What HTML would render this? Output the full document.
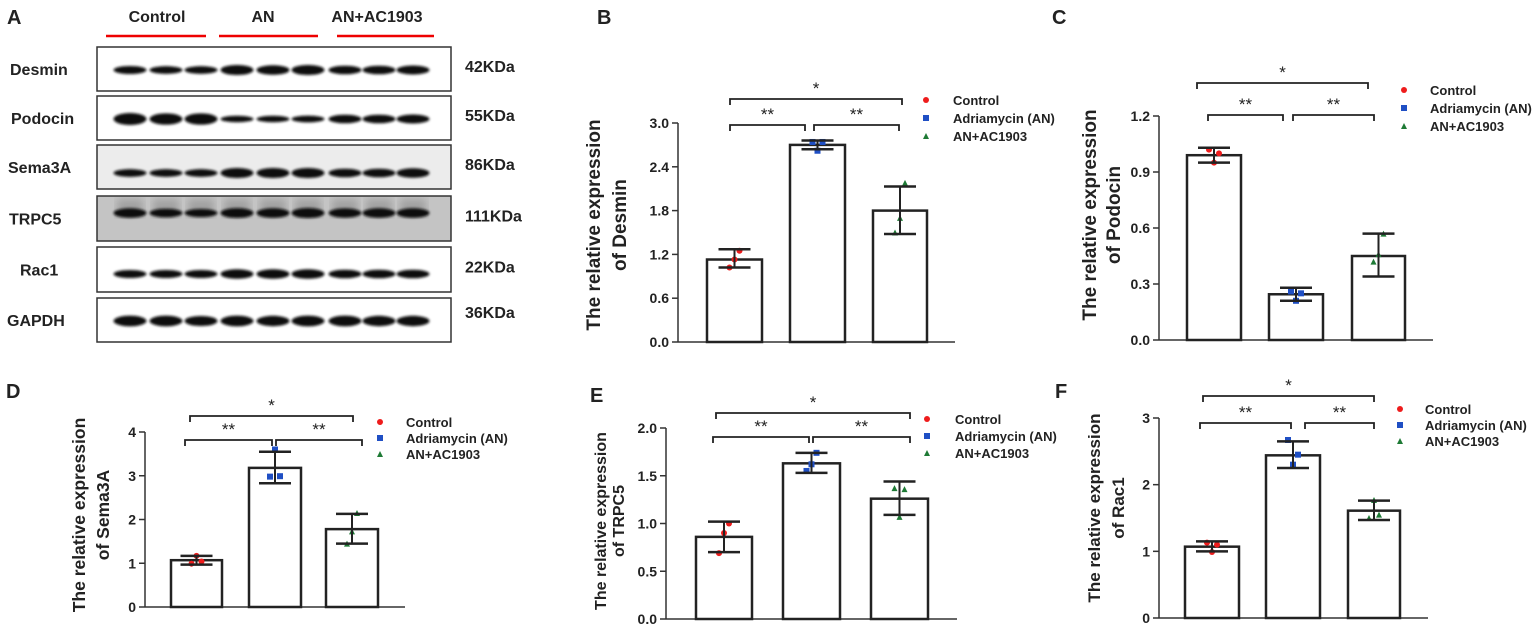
<!DOCTYPE html>
<html><head><meta charset="utf-8"><style>
html,body{margin:0;padding:0;background:#fff;}
svg{display:block;font-family:"Liberation Sans",Arial,sans-serif;}
</style></head><body>
<svg id="s" width="1535" height="633" viewBox="0 0 1535 633" xmlns="http://www.w3.org/2000/svg">
<defs><filter id="bl" x="-20%" y="-50%" width="140%" height="200%"><feGaussianBlur stdDeviation="1.2"/></filter>
<filter id="bl2"><feGaussianBlur stdDeviation="4"/></filter></defs>
<g id="g"></g>
</svg>
<script>
var g=document.getElementById('g'),NS='http://www.w3.org/2000/svg';
function el(t,a,txt){var e=document.createElementNS(NS,t);for(var k in a)e.setAttribute(k,a[k]);if(txt!=null)e.textContent=txt;g.appendChild(e);return e;}
function tx(x,y,s,fs,opt){opt=opt||{};var a={x:x,y:y,'font-size':fs,fill:'#222','font-weight':opt.w||'bold'};if(opt.a)a['text-anchor']=opt.a;if(opt.r)a.transform='rotate(-90 '+x+' '+y+')';return el('text',a,s);}
tx(7,24,'A',20);tx(597,24,'B',20);tx(1052,24,'C',20);tx(6,398,'D',20);tx(590,402,'E',20);tx(1055,398,'F',20);
tx(157,22,'Control',16,{a:'middle'});tx(263,22,'AN',16,{a:'middle'});tx(377,22,'AN+AC1903',16,{a:'middle'});
[[106,206],[219,318],[337,434]].forEach(function(p){el('line',{x1:p[0],x2:p[1],y1:36,y2:36,stroke:'#e00','stroke-width':2.5});});
var rows=[['Desmin',47,91,70,[.75,.7,.7,1.1,1,1.1,.85,.85,.9],'#fff','42KDa',10],
['Podocin',96,140,119,[1.4,1.3,1.3,.5,.5,.55,.85,.85,.9],'#fff','55KDa',11],
['Sema3A',145,189,173,[.7,.7,.7,1.1,1.1,1.1,.85,.85,1],'#ececec','86KDa',8],
['TRPC5',196,241,213,[1,.85,.75,1.05,1,1.1,.95,1,1],'#c4c4c4','111KDa',9],
['Rac1',247,292,274,[.75,.75,.75,1,1,1,.85,.85,.85],'#fff','22KDa',20],
['GAPDH',298,342,321,[1.2,1.2,1.1,1.2,1.15,1.2,1.2,1.15,1.15],'#fff','36KDa',7]];
var lanes=[130,166,201,237,273,308,345,379,413];
rows.forEach(function(r){
 el('rect',{x:97,y:r[1],width:354,height:r[2]-r[1],fill:r[5],stroke:'#333','stroke-width':1.5});
 if(r[0]=='TRPC5'){lanes.forEach(function(x){el('rect',{x:x-13,y:r[1]+3,width:26,height:18,fill:'#8a8a8a',filter:'url(#bl2)',opacity:.6});});}
 lanes.forEach(function(x,i){var h=6*r[4][i]+1.5;el('ellipse',{cx:x,cy:r[3],rx:16.5,ry:h/2+1,fill:'#111',filter:'url(#bl)'});});
 tx(r[7],(r[1]+r[2])/2+6,r[0],16);
 tx(465,(r[1]+r[2])/2+(r[0]=='GAPDH'?-2:3),r[6],16);
});
function panel(P){
 var ax=P.ax,y0=P.y0,yt=P.yt,sc=(y0-yt)/P.max;
 function Y(v){return y0-v*sc;}
 el('line',{x1:ax,x2:ax,y1:yt,y2:y0,stroke:'#333','stroke-width':1.5});
 el('line',{x1:ax,x2:P.xe,y1:y0,y2:y0,stroke:'#333','stroke-width':1.5});
 P.ticks.forEach(function(t){var y=Y(t);el('line',{x1:ax-6,x2:ax,y1:y,y2:y,stroke:'#333','stroke-width':1.5});tx(ax-9,y+5,t.toFixed(P.dec),14,{a:'end'});});
 var cols=['#ee1c1c','#1f4fc4','#1e7a35'];
 P.bars.forEach(function(b,i){
  var x1=b[0],x2=b[1],cx=(x1+x2)/2;
  el('rect',{x:x1,y:Y(b[2]),width:x2-x1,height:y0-Y(b[2]),fill:'#fff',stroke:'#222','stroke-width':2.5});
  b[5].forEach(function(v,k){var px=cx+(k-1)*5;
   if(i==0)el('circle',{cx:px,cy:Y(v),r:3,fill:cols[0]});
   else if(i==1)el('rect',{x:px-3,y:Y(v)-3,width:6,height:6,fill:cols[1]});
   else el('polygon',{points:(px-3)+','+(Y(v)+3)+' '+(px+3)+','+(Y(v)+3)+' '+px+','+(Y(v)-3),fill:cols[2]});});
  el('line',{x1:cx,x2:cx,y1:Y(b[3]),y2:Y(b[4]),stroke:'#222','stroke-width':2});
  [b[3],b[4]].forEach(function(v){el('line',{x1:cx-16,x2:cx+16,y1:Y(v),y2:Y(v),stroke:'#222','stroke-width':2.5});});
 });
 P.br.forEach(function(b){el('polyline',{points:b[0]+','+(b[2]+6)+' '+b[0]+','+b[2]+' '+b[1]+','+b[2]+' '+b[1]+','+(b[2]+6),fill:'none',stroke:'#222','stroke-width':1.8});
  tx((b[0]+b[1])/2,b[2]-5,b[3],17,{a:'middle',w:'normal'});});
 var L=['Control','Adriamycin (AN)','AN+AC1903'];
 P.leg.ys.forEach(function(y,i){var x=P.leg.dx;
  if(i==0)el('circle',{cx:x,cy:y,r:3,fill:cols[0]});else if(i==1)el('rect',{x:x-3,y:y-3,width:6,height:6,fill:cols[1]});
  else el('polygon',{points:(x-3)+','+(y+3)+' '+(x+3)+','+(y+3)+' '+x+','+(y-3),fill:cols[2]});
  tx(P.leg.tx,y+5,L[i],13);});
 tx(P.yl[0],P.yl[2],'The  relative expression',P.yl[3],{a:'middle',r:1});
 tx(P.yl[1],P.yl[2],P.name,P.yl[3],{a:'middle',r:1});
}
panel({ax:678,y0:342,yt:123,max:3,ticks:[0,0.6,1.2,1.8,2.4,3.0],dec:1,xe:955,name:'of Desmin',
 bars:[[707,762,1.13,1.02,1.27,[1.02,1.13,1.25]],[790,845,2.7,2.64,2.76,[2.74,2.62,2.74]],[873,927,1.8,1.48,2.13,[1.5,1.7,2.18]]],
 br:[[730,902,99,'*'],[730,805,125,'**'],[814,899,125,'**']],leg:{dx:926,tx:953,ys:[100,118,136]},yl:[600,626,225,19]});
panel({ax:1159,y0:340,yt:116,max:1.2,ticks:[0,0.3,0.6,0.9,1.2],dec:1,xe:1433,name:'of Podocin',
 bars:[[1187,1241,0.99,0.95,1.03,[1.02,0.95,1.0]],[1269,1323,0.245,0.21,0.28,[0.26,0.21,0.25]],[1352,1405,0.45,0.34,0.57,[0.42,0.46,0.57]]],
 br:[[1197,1368,83,'*'],[1208,1283,115,'**'],[1293,1374,115,'**']],leg:{dx:1404,tx:1430,ys:[90,108,126]},yl:[1096,1120,215,19]});
panel({ax:145,y0:607,yt:432,max:4,ticks:[0,1,2,3,4],dec:0,xe:405,name:'of Sema3A',
 bars:[[171,222,1.07,0.97,1.17,[0.99,1.17,1.04]],[249,301,3.18,2.83,3.55,[2.98,3.6,2.99]],[326,378,1.78,1.45,2.13,[1.45,1.73,2.15]]],
 br:[[190,353,416,'*'],[185,272,440,'**'],[276,362,440,'**']],leg:{dx:380,tx:406,ys:[422,438,454]},yl:[85,109,515,17.5]});
panel({ax:666,y0:619,yt:428,max:2,ticks:[0,0.5,1.0,1.5,2.0],dec:1,xe:957,name:'of TRPC5',
 bars:[[696,752,0.86,0.70,1.02,[0.69,0.9,1.0]],[783,840,1.63,1.53,1.74,[1.55,1.62,1.74]],[871,928,1.26,1.09,1.44,[1.37,1.07,1.36]]],
 br:[[716,910,413,'*'],[713,809,437,'**'],[813,910,437,'**']],leg:{dx:927,tx:955,ys:[419,436,453]},yl:[606,624,521,16]});
panel({ax:1159,y0:618,yt:418,max:3,ticks:[0,1,2,3],dec:0,xe:1428,name:'of Rac1',
 bars:[[1185,1239,1.07,1.0,1.15,[1.13,0.99,1.1]],[1266,1320,2.44,2.25,2.65,[2.67,2.3,2.45]],[1348,1400,1.61,1.47,1.76,[1.5,1.77,1.55]]],
 br:[[1203,1374,396,'*'],[1200,1291,423,'**'],[1305,1374,423,'**']],leg:{dx:1400,tx:1425,ys:[409,425,441]},yl:[1100,1124,508,17]});
</script>
</body></html>
